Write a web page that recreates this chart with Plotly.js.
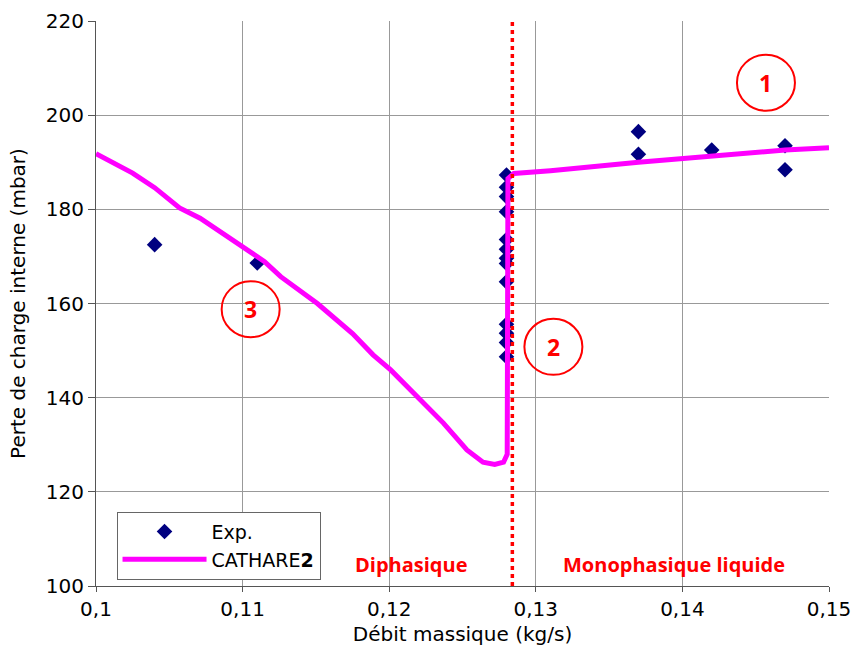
<!DOCTYPE html>
<html>
<head>
<meta charset="utf-8">
<script src="https://cdn.plot.ly/plotly-3.0.1.min.js"></script>
<style>html,body{margin:0;padding:0;background:#fff;}#chart{width:851px;height:646px;}</style>
</head>
<body>
<div id="chart"></div>
<script>
// Experimental points
const expX = [0.104, 0.111,
  0.128, 0.128, 0.128, 0.128, 0.128, 0.128, 0.128, 0.128, 0.128, 0.128, 0.128, 0.128, 0.128,
  0.137, 0.137, 0.142, 0.147, 0.147];
const expY = [172.5, 168.6,
  187.3, 184.7, 182.7, 179.5, 173.6, 171.5, 169.6, 168.5, 164.6, 155.6, 153.7, 151.7, 148.7,
  196.5, 191.7, 192.6, 193.5, 188.4];

// CATHARE2 calculation
const cathX = [0.1, 0.1015, 0.1025, 0.104, 0.1057, 0.1071, 0.1085, 0.11, 0.1115, 0.1126, 0.1151,
  0.1175, 0.1189, 0.1201, 0.1223, 0.1237, 0.1253, 0.1264, 0.1272, 0.1278, 0.12805, 0.1281, 0.1285,
  0.131, 0.137, 0.142, 0.147, 0.15];
const cathY = [191.8, 189.3, 187.7, 184.6, 180.3, 178.1, 175.2, 172.0, 168.9, 165.7, 160.0,
  153.6, 149.1, 145.9, 138.8, 134.6, 128.9, 126.3, 125.8, 126.3, 128.0, 186.5, 187.6,
  188.2, 190.0, 191.3, 192.6, 193.1];

// Regime boundary and labels
const boundaryX = 0.1284;
const regimeLabels = ['Diphasique', 'Monophasique liquide'];
const regimeLabelX = [0.1215, 0.1394];
const regimeLabelY = 104.5;
const circleLabels = ['1', '2', '3'];
const circleX = [0.1457, 0.1312, 0.11055];
const circleY = [206.9, 150.8, 158.8];

const xTickVals = [0.1, 0.11, 0.12, 0.13, 0.14, 0.15];
const xTickText = ['0,1', '0,11', '0,12', '0,13', '0,14', '0,15'];
const yTickVals = [100, 120, 140, 160, 180, 200, 220];

const traces = [
  {x: expX, y: expY, type: 'scatter', mode: 'markers', name: 'Exp.',
   marker: {symbol: 'diamond', size: 12, color: '#000080'}},
  {x: cathX, y: cathY, type: 'scatter', mode: 'lines', name: 'CATHARE<b>2</b>',
   line: {color: '#ff00ff', width: 5}}
];

const shapes = [
  {type: 'line', xref: 'x', yref: 'paper', x0: boundaryX, x1: boundaryX, y0: 0, y1: 1,
   line: {color: '#ff0000', width: 3.5, dash: '4px,4px'}, layer: 'above'}
];
const annotations = [];
circleLabels.forEach((t, i) => {
  shapes.push({type: 'circle', xref: 'x', yref: 'y', xsizemode: 'pixel', ysizemode: 'pixel',
    xanchor: circleX[i], yanchor: circleY[i], x0: -29, x1: 29, y0: -28, y1: 28,
    line: {color: '#ff0000', width: 2}});
  annotations.push({x: circleX[i], y: circleY[i], xref: 'x', yref: 'y', text: '<b>' + t + '</b>',
    showarrow: false, font: {family: 'Open Sans', size: 23, color: '#ff0000'}});
});
regimeLabels.forEach((t, i) => {
  annotations.push({x: regimeLabelX[i], y: regimeLabelY, xref: 'x', yref: 'y', text: '<b>' + t + '</b>',
    showarrow: false, font: {family: 'Open Sans', size: 20, color: '#ff0000'}});
});

const layout = {
  width: 851, height: 646,
  margin: {l: 96, r: 22, t: 21, b: 60},
  paper_bgcolor: '#fff', plot_bgcolor: '#fff',
  font: {family: 'DejaVu Sans', size: 19, color: '#000'},
  showlegend: true,
  legend: {x: 0.028, y: 0.1315, xanchor: 'left', yanchor: 'top', bgcolor: '#fff',
    bordercolor: '#666', borderwidth: 1, font: {family: 'DejaVu Sans', size: 19, color: '#000'},
    tracegroupgap: 0, itemwidth: 84},
  xaxis: {range: [0.1, 0.15], tickvals: xTickVals, ticktext: xTickText, ticklabeloverflow: 'allow',
    showgrid: true, gridcolor: '#999', gridwidth: 1, showline: true, linecolor: '#555', linewidth: 1,
    mirror: false, ticks: 'outside', ticklen: 5, tickcolor: '#555', zeroline: false,
    title: {text: 'Débit massique (kg/s)', font: {size: 20}, standoff: 6},
    tickfont: {size: 20}},
  yaxis: {range: [100, 220], tickvals: yTickVals,
    showgrid: true, gridcolor: '#999', gridwidth: 1, showline: true, linecolor: '#555', linewidth: 1,
    ticks: 'outside', ticklen: 7, tickcolor: '#555', zeroline: false,
    title: {text: 'Perte de charge interne (mbar)', font: {size: 20}, standoff: 14},
    tickfont: {size: 20}},
  shapes: shapes,
  annotations: annotations
};

Plotly.newPlot('chart', traces, layout, {displayModeBar: false, staticPlot: true});
</script>
</body>
</html>
